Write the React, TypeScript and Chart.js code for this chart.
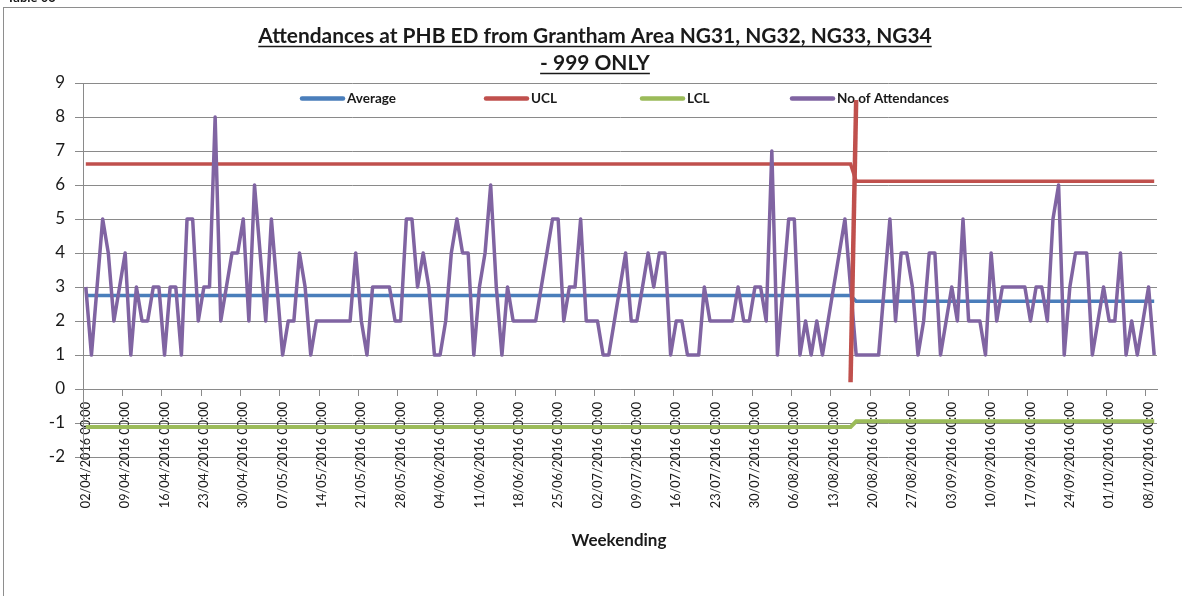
import React, { useEffect, useRef } from 'react';
import { Chart, registerables } from 'chart.js';

Chart.register(...registerables);

// ---------- data ----------
const titleLines = ['Attendances at PHB ED from Grantham Area NG31, NG32, NG33, NG34', '- 999 ONLY'];
const xAxisTitle = 'Weekending';

const tickLabels = [
  '02/04/2016 00:00', '09/04/2016 00:00', '16/04/2016 00:00', '23/04/2016 00:00', '30/04/2016 00:00',
  '07/05/2016 00:00', '14/05/2016 00:00', '21/05/2016 00:00', '28/05/2016 00:00', '04/06/2016 00:00',
  '11/06/2016 00:00', '18/06/2016 00:00', '25/06/2016 00:00', '02/07/2016 00:00', '09/07/2016 00:00',
  '16/07/2016 00:00', '23/07/2016 00:00', '30/07/2016 00:00', '06/08/2016 00:00', '13/08/2016 00:00',
  '20/08/2016 00:00', '27/08/2016 00:00', '03/09/2016 00:00', '10/09/2016 00:00', '17/09/2016 00:00',
  '24/09/2016 00:00', '01/10/2016 00:00', '08/10/2016 00:00',
];
const daysPerTick = 7;

// daily number of attendances, 02/04/2016 .. 10/10/2016
const attendances = [
  3, 1, 3, 5, 4, 2, 3, 4, 1, 3,
  2, 2, 3, 3, 1, 3, 3, 1, 5, 5,
  2, 3, 3, 8, 2, 3, 4, 4, 5, 2,
  6, 4, 2, 5, 3, 1, 2, 2, 4, 3,
  1, 2, 2, 2, 2, 2, 2, 2, 4, 2,
  1, 3, 3, 3, 3, 2, 2, 5, 5, 3,
  4, 3, 1, 1, 2, 4, 5, 4, 4, 1,
  3, 4, 6, 3, 1, 3, 2, 2, 2, 2,
  2, 3, 4, 5, 5, 2, 3, 3, 5, 2,
  2, 2, 1, 1, 2, 3, 4, 2, 2, 3,
  4, 3, 4, 4, 1, 2, 2, 1, 1, 1,
  3, 2, 2, 2, 2, 2, 3, 2, 2, 3,
  3, 2, 7, 1, 3, 5, 5, 1, 2, 1,
  2, 1, 2, 3, 4, 5, 3, 1, 1, 1,
  1, 1, 3, 5, 2, 4, 4, 3, 1, 2,
  4, 4, 1, 2, 3, 2, 5, 2, 2, 2,
  1, 4, 2, 3, 3, 3, 3, 3, 2, 3,
  3, 2, 5, 6, 1, 3, 4, 4, 4, 1,
  2, 3, 2, 2, 4, 1, 2, 1, 2, 3,
  1,
];

// control chart levels: [first period, second period]
const averageLevels = [2.75, 2.58];
const uclLevels = [6.62, 6.11];
const lclLevels = [-1.12, -0.95];
const lastDayOfFirstPeriod = 136;

// red marker line at the change of period
const changeMarkerDays = [136, 137];
const changeMarkerValues = [0.2, 8.5];

const yMin = -2;
const yMax = 9;

// ---------- styles ----------
const FONT = 'Lato, "Open Sans", "DejaVu Sans", sans-serif';
const COLORS = {
  average: '#4A7EBB',
  ucl: '#C0504D',
  lcl: '#9BBB59',
  attend: '#8064A2',
  grid: '#8a8a8a',
  text: '#1a1a1a',
};
const legendStartX = [300, 484, 640, 790];

const App: React.FC = () => {
  const ref = useRef<HTMLCanvasElement | null>(null);

  useEffect(() => {
    if (!ref.current) return;
    const pt = (i: number) => i + 0.5;
    const step = (levels: number[]) =>
      attendances.map((_, i) => ({ x: pt(i), y: i <= lastDayOfFirstPeriod ? levels[0] : levels[1] }));

    const decor = {
      id: 'decor',
      beforeDraw(chart: any) {
        const { ctx, width, height } = chart;
        ctx.save();
        ctx.fillStyle = '#ffffff';
        ctx.fillRect(0, 0, width, height);
        ctx.strokeStyle = '#8e8e8e';
        ctx.lineWidth = 1;
        ctx.strokeRect(3.5, 7.5, width + 20, height + 20);
        ctx.fillStyle = '#1a1a1a';
        ctx.font = `bold 13px ${FONT}`;
        ctx.textAlign = 'left';
        ctx.textBaseline = 'alphabetic';
        ctx.fillText('Table 03', 7, 2);

        // title, fitted to the reference width
        ctx.font = `bold 20px ${FONT}`;
        const w0 = ctx.measureText(titleLines[0]).width;
        const size = (20 * 674) / w0;
        ctx.font = `bold ${size}px ${FONT}`;
        ctx.fillStyle = '#1a1a1a';
        ctx.strokeStyle = '#1a1a1a';
        ctx.lineWidth = 1.4;
        const cx = 595;
        const baselines = [43, 70];
        titleLines.forEach((t, k) => {
          const tw = ctx.measureText(t).width;
          const x0 = cx - tw / 2;
          ctx.fillText(t, x0, baselines[k]);
          ctx.beginPath();
          ctx.moveTo(x0, baselines[k] + 3.5);
          ctx.lineTo(x0 + tw, baselines[k] + 3.5);
          ctx.stroke();
        });

        // x axis title
        ctx.font = `bold 17px ${FONT}`;
        ctx.textAlign = 'center';
        ctx.fillText(xAxisTitle, 619, 546);
        ctx.restore();
      },
      beforeDatasetsDraw(chart: any) {
        const { ctx } = chart;
        ctx.save();
        const items = chart.data.datasets.filter((d: any) => d.label);
        const y = 98.5;
        items.forEach((d: any, k: number) => {
          const x = legendStartX[k];
          ctx.strokeStyle = d.borderColor;
          ctx.lineWidth = 4.5;
          ctx.lineCap = 'round';
          ctx.beginPath();
          ctx.moveTo(x + 2, y);
          ctx.lineTo(x + 43, y);
          ctx.stroke();
          ctx.fillStyle = '#1a1a1a';
          ctx.font = `bold 13.5px ${FONT}`;
          ctx.textBaseline = 'middle';
          ctx.textAlign = 'left';
          ctx.fillText(d.label, x + 47, y);
        });
        ctx.restore();
      },
    };

    const chart = new Chart(ref.current, {
      type: 'line',
      data: {
        datasets: [
          {
            label: 'Average',
            data: step(averageLevels),
            borderColor: COLORS.average,
            borderWidth: 3.5,
            pointRadius: 0,
            order: 4,
          },
          {
            label: 'UCL',
            data: step(uclLevels),
            borderColor: COLORS.ucl,
            borderWidth: 3.5,
            pointRadius: 0,
            order: 3,
          },
          {
            label: 'LCL',
            data: step(lclLevels),
            borderColor: COLORS.lcl,
            borderWidth: 4,
            pointRadius: 0,
            order: 2,
          },
          {
            label: 'No of Attendances',
            data: attendances.map((v, i) => ({ x: pt(i), y: v })),
            borderColor: COLORS.attend,
            borderWidth: 3.5,
            pointRadius: 0,
            borderJoinStyle: 'round',
            order: 1,
          },
          {
            label: '',
            data: changeMarkerDays.map((d, k) => ({ x: pt(d), y: changeMarkerValues[k] })),
            borderColor: COLORS.ucl,
            borderWidth: 4.5,
            pointRadius: 0,
            order: 0,
          },
        ],
      },
      options: {
        animation: false,
        responsive: false,
        devicePixelRatio: 1,
        parsing: true,
        layout: { padding: { left: 0, top: 83, right: 25, bottom: 139 } },
        plugins: {
          legend: { display: false },
          title: { display: false },
          tooltip: { enabled: false },
        },
        scales: {
          x: {
            type: 'linear',
            position: { y: 0 } as any,
            z: 1,
            min: 0,
            max: attendances.length,
            afterBuildTicks: (axis: any) => {
              axis.ticks = tickLabels.map((_, k) => ({ value: k * daysPerTick }));
            },
            grid: {
              drawOnChartArea: false,
              drawTicks: true,
              tickLength: 6,
              color: COLORS.grid,
            },
            border: { display: true, color: COLORS.grid },
            ticks: {
              autoSkip: false,
              maxRotation: 90,
              minRotation: 90,
              padding: 7,
              labelOffset: 2.8,
              color: COLORS.text,
              font: { family: FONT, size: 12.7 },
              callback: (_v: any, i: number) => tickLabels[i],
            },
          },
          y: {
            type: 'linear',
            min: yMin,
            max: yMax,
            afterFit: (axis: any) => {
              axis.width = 83;
            },
            grid: {
              color: COLORS.grid,
              lineWidth: 1,
              drawTicks: true,
              tickLength: 8,
            },
            border: { display: true, color: COLORS.grid },
            ticks: {
              stepSize: 1,
              padding: 10,
              color: COLORS.text,
              font: { family: FONT, size: 17 },
            },
          },
        },
      },
      plugins: [decor],
    } as any);

    return () => chart.destroy();
  }, []);

  return (
    <div style={{ position: 'absolute', left: 0, top: 0, width: 1182, height: 596 }}>
      <canvas ref={ref} width={1182} height={596} style={{ width: 1182, height: 596, display: 'block' }} />
    </div>
  );
};

export default App;
